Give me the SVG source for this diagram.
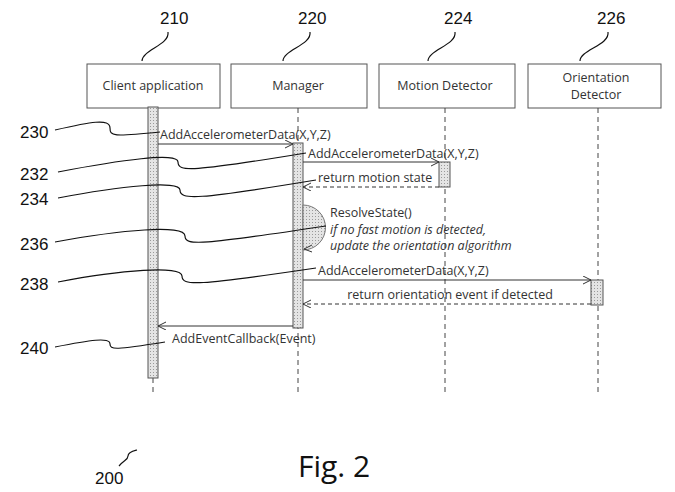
<svg xmlns="http://www.w3.org/2000/svg" width="675" height="492" viewBox="0 0 675 492">
<defs>
<pattern id="dots" width="3" height="3" patternUnits="userSpaceOnUse"><rect width="3" height="3" fill="#e4e4e4"/><rect width="1" height="1" fill="#999"/></pattern>
<marker id="ah" markerWidth="10" markerHeight="10" refX="8" refY="4" orient="auto" markerUnits="userSpaceOnUse"><path d="M0,0 L8,4 L0,8" fill="none" stroke="#333" stroke-width="1"/></marker>
</defs>
<style>
.box{fill:#fff;stroke:#555;stroke-width:1}
.lbl{font-family:"Open Sans","Liberation Sans",sans-serif;font-size:12.5px;fill:#333}
.num{font-family:"Liberation Sans",Arial,sans-serif;font-size:17px;fill:#111}
.life{stroke:#444;stroke-width:1;stroke-dasharray:5,4}
.act{fill:url(#dots);stroke:#555;stroke-width:1}
.msg{stroke:#333;stroke-width:1;fill:none}
.ret{stroke:#333;stroke-width:1;fill:none;stroke-dasharray:4,3}
.lead{stroke:#111;stroke-width:1.2;fill:none}
</style>
<rect width="675" height="492" fill="#fff"/>
<g id="n210"><rect class="box" x="87" y="64" width="133" height="44"/><text class="lbl" x="153" y="90" text-anchor="middle">Client application</text><line class="life" x1="153" y1="108" x2="153" y2="395"/><rect class="act" x="148" y="107" width="10" height="271"/></g>
<g id="n220"><rect class="box" x="231" y="64" width="136" height="44"/><text class="lbl" x="298" y="90" text-anchor="middle">Manager</text><line class="life" x1="298" y1="108" x2="298" y2="395"/><rect class="act" x="293" y="143" width="10" height="185"/><path d="M303,205 A22,22 0 0 1 303,250 Z" fill="url(#dots)" stroke="#777"/></g>
<g id="n224"><rect class="box" x="379" y="64" width="136" height="44"/><text class="lbl" x="445" y="90" text-anchor="middle">Motion Detector</text><line class="life" x1="445" y1="108" x2="445" y2="395"/><rect class="act" x="439" y="162" width="11" height="25"/></g>
<g id="n226"><rect class="box" x="528" y="64" width="133" height="44"/><text class="lbl" x="596" y="82" text-anchor="middle">Orientation</text><text class="lbl" x="596" y="99" text-anchor="middle">Detector</text><line class="life" x1="598" y1="108" x2="598" y2="395"/><rect class="act" x="591" y="280" width="12" height="25"/></g>
<g id="connectors">
<line class="msg" x1="158" y1="144" x2="293" y2="144" marker-end="url(#ah)"/>
<text class="lbl" x="160" y="139">AddAccelerometerData(X,Y,Z)</text>
<line class="msg" x1="303" y1="162" x2="439" y2="162" marker-end="url(#ah)"/>
<text class="lbl" x="308" y="158">AddAccelerometerData(X,Y,Z)</text>
<line class="ret" x1="439" y1="187" x2="303" y2="187" marker-end="url(#ah)"/>
<text class="lbl" x="318" y="182">return motion state</text>
<path class="msg" d="M312,245 l-8,4 l8,3" />
<text class="lbl" x="330" y="217">ResolveState()</text>
<text class="lbl" x="330" y="234" font-style="italic">if no fast motion is detected,</text>
<text class="lbl" x="330" y="250" font-style="italic">update the orientation algorithm</text>
<line class="msg" x1="303" y1="280" x2="591" y2="280" marker-end="url(#ah)"/>
<text class="lbl" x="318" y="275">AddAccelerometerData(X,Y,Z)</text>
<line class="ret" x1="591" y1="304" x2="303" y2="304" marker-end="url(#ah)"/>
<text class="lbl" x="450" y="299" text-anchor="middle">return orientation event if detected</text>
<line class="msg" x1="293" y1="326" x2="158" y2="326" marker-end="url(#ah)"/>
<text class="lbl" x="172" y="343">AddEventCallback(Event)</text>
<path class="lead" d="M55,130 C90,122 110,118 110,128 C110,136 112,137 160,132"/>
<path class="lead" d="M58,172 C120,160 178,152 178,162 C178,172 190,172 306,153"/>
<path class="lead" d="M58,198 C120,186 180,180 180,190 C180,200 195,200 316,180"/>
<path class="lead" d="M55,242 C120,230 185,224 185,236 C185,246 200,245 326,226"/>
<path class="lead" d="M58,282 C120,270 182,265 182,276 C182,286 195,286 316,268"/>
<path class="lead" d="M55,347 C90,340 110,337 110,344 C110,350 115,350 165,342"/>
<path class="lead" d="M142,61 C142,50 170,45 168,32"/>
<path class="lead" d="M283,61 C283,50 312,45 310,32"/>
<path class="lead" d="M428,61 C428,50 457,45 455,32"/>
<path class="lead" d="M580,61 C580,50 610,45 608,32"/>
<path class="lead" d="M119,466 C124,460 128,460 128,456 C128,452 133,451 137,450"/>
</g>
<text class="num" x="20" y="138">230</text>
<text class="num" x="20" y="180">232</text>
<text class="num" x="20" y="205">234</text>
<text class="num" x="20" y="250">236</text>
<text class="num" x="20" y="290">238</text>
<text class="num" x="20" y="354">240</text>
<text class="num" x="160" y="24">210</text>
<text class="num" x="298" y="24">220</text>
<text class="num" x="444" y="24">224</text>
<text class="num" x="597" y="24">226</text>
<text class="num" x="95" y="484" font-size="15">200</text>
<text x="298" y="477" font-family="Open Sans,Liberation Sans,sans-serif" font-size="30" fill="#111">Fig. 2</text>
</svg>
